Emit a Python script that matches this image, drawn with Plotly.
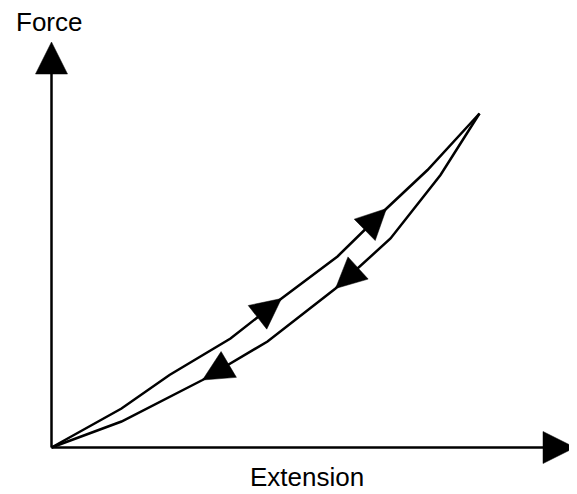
import math
import plotly.graph_objects as go

# Loading curve (extension, force) in arbitrary units
load_x = [0, 7.0, 11.8, 17.9, 23.0, 28.6, 33.5, 37.6, 42.8]
load_y = [0, 3.9, 7.25, 10.9, 14.9, 19.1, 23.9, 27.75, 33.4]
# Unloading curve
unload_x = [42.8, 38.9, 33.9, 28.4, 21.6, 15.1, 7.0, 0]
unload_y = [33.4, 27.25, 20.9, 15.9, 10.6, 6.75, 2.6, 0]
# indices of points carrying direction arrowheads
load_arrows = [4, 6]
unload_arrows = [3, 5]

x_axis_end = 52.35
y_axis_end = 40.55

# axis ranges chosen so that one unit is the same length on both axes
X_RANGE = [-4.35, 52.55]
Y_RANGE = [-4.65, 43.95]

ARROW_LEN, ARROW_WID = 3.05, 3.0
AXIS_LEN, AXIS_WID = 3.2, 3.2


def head(x0, y0, x1, y1, length, width):
    """Triangle with tip at (x1, y1) pointing along (x0,y0)->(x1,y1)."""
    dx, dy = x1 - x0, y1 - y0
    n = math.hypot(dx, dy)
    ux, uy = dx / n, dy / n
    px, py = -uy, ux
    bx, by = x1 - ux * length, y1 - uy * length
    xs = [x1, bx + px * width / 2, bx - px * width / 2, x1]
    ys = [y1, by + py * width / 2, by - py * width / 2, y1]
    return xs, ys


fig = go.Figure()
line = dict(color="black", width=2.5)

# axes
fig.add_trace(go.Scatter(x=[0, x_axis_end - 1], y=[0, 0], mode="lines",
                         line=line, hoverinfo="skip"))
fig.add_trace(go.Scatter(x=[0, 0], y=[0, y_axis_end - 1], mode="lines",
                         line=line, hoverinfo="skip"))
# curves
fig.add_trace(go.Scatter(x=load_x, y=load_y, mode="lines", line=line, hoverinfo="skip"))
fig.add_trace(go.Scatter(x=unload_x, y=unload_y, mode="lines", line=line, hoverinfo="skip"))

heads = [head(0, 0, x_axis_end, 0, AXIS_LEN, AXIS_WID),
         head(0, 0, 0, y_axis_end, AXIS_LEN, AXIS_WID)]
for i in load_arrows:
    heads.append(head(load_x[i - 1], load_y[i - 1], load_x[i], load_y[i], ARROW_LEN, ARROW_WID))
for i in unload_arrows:
    heads.append(head(unload_x[i - 1], unload_y[i - 1], unload_x[i], unload_y[i], ARROW_LEN, ARROW_WID))

for xs, ys in heads:
    fig.add_trace(go.Scatter(x=xs, y=ys, mode="lines", fill="toself",
                             fillcolor="black", line=dict(color="black", width=0.5),
                             hoverinfo="skip"))

font = dict(family="Liberation Sans, Arial, sans-serif", size=26, color="black")
fig.add_annotation(x=-0.3, y=42.6, xref="x", yref="y", text="Force",
                   showarrow=False, font=font, xanchor="center", yanchor="middle")
fig.add_annotation(x=25.5, y=-2.95, xref="x", yref="y", text="Extension",
                   showarrow=False, font=font, xanchor="center", yanchor="middle")

# page body has an 8px margin, so the figure is 8px smaller than the window
fig.update_layout(
    width=569, height=486,
    margin=dict(l=0, r=0, t=0, b=0),
    paper_bgcolor="white", plot_bgcolor="white",
    showlegend=False,
    xaxis=dict(range=X_RANGE, visible=False, fixedrange=True),
    yaxis=dict(range=Y_RANGE, visible=False, fixedrange=True),
)

fig.write_html("out.html")
